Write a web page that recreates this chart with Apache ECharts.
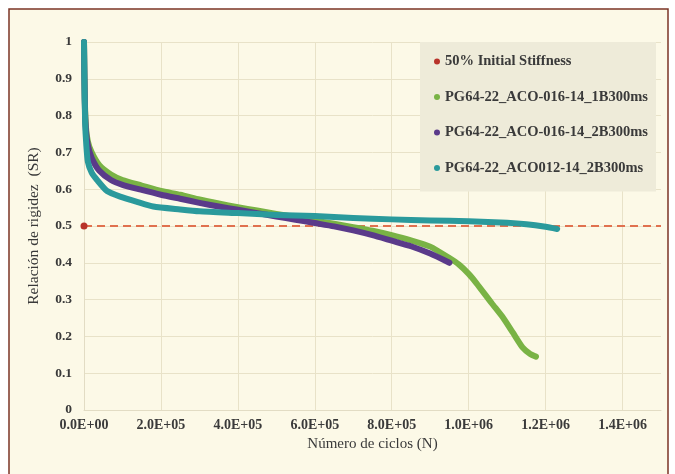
<!DOCTYPE html>
<html>
<head>
<meta charset="utf-8">
<script src="https://cdn.jsdelivr.net/npm/echarts@6/dist/echarts.min.js"></script>
<style>html,body{margin:0;padding:0;background:#fff;}#c{width:675px;height:474px;}</style>
</head>
<body>
<div id="c"></div>
<script>
const seriesNames = ['50% Initial Stiffness','PG64-22_ACO-016-14_1B300ms','PG64-22_ACO-016-14_2B300ms','PG64-22_ACO012-14_2B300ms'];
const yTicks = [0,0.1,0.2,0.3,0.4,0.5,0.6,0.7,0.8,0.9,1];
const refLine = [[0,0.5],[1.5e6,0.5]];
const green = [[0,1],[2e3,0.85],[5e3,0.77],[1e4,0.73],[2e4,0.70],[4e4,0.665],[7e4,0.64],[1e5,0.625],[1.5e5,0.61],[2e5,0.595],[2.5e5,0.585],[3e5,0.572],[3.5e5,0.561],[4e5,0.551],[4.5e5,0.542],[5e5,0.533],[5.5e5,0.524],[6e5,0.515],[6.5e5,0.506],[7e5,0.497],[7.5e5,0.487],[8e5,0.475],[8.5e5,0.461],[9e5,0.444],[9.5e5,0.413],[9.75e5,0.395],[1.0e6,0.37],[1.02e6,0.345],[1.06e6,0.29],[1.09e6,0.25],[1.115e6,0.21],[1.14e6,0.17],[1.16e6,0.152],[1.175e6,0.145]];
const purple = [[0,1],[2e3,0.84],[5e3,0.76],[1e4,0.72],[2e4,0.685],[4e4,0.65],[7e4,0.625],[1e5,0.612],[1.5e5,0.598],[2e5,0.585],[2.5e5,0.574],[3e5,0.563],[3.5e5,0.553],[4e5,0.544],[4.5e5,0.535],[5e5,0.526],[5.5e5,0.517],[6e5,0.508],[6.5e5,0.499],[7e5,0.488],[7.5e5,0.475],[8e5,0.46],[8.5e5,0.445],[9e5,0.425],[9.5e5,0.40]];
const teal = [[0,1],[1e3,0.9],[3e3,0.78],[6e3,0.72],[1e4,0.675],[2e4,0.645],[3.4e4,0.625],[6e4,0.595],[9.4e4,0.58],[1.4e5,0.565],[1.8e5,0.553],[2.5e5,0.545],[3e5,0.54],[4e5,0.535],[5e5,0.53],[6e5,0.527],[7e5,0.522],[8e5,0.518],[9e5,0.515],[1e6,0.513],[1.1e6,0.509],[1.15e6,0.505],[1.2e6,0.498],[1.23e6,0.492]];
const colors = ['#B8332A','#79B345','#5A3A8A','#2A9A9C'];

function fmtX(v){
  if (v % 2e5 !== 0) return '';
  const s = v.toExponential(1).split('e');
  let ex = parseInt(s[1],10);
  const sign = ex < 0 ? '-' : '+';
  ex = Math.abs(ex);
  return s[0] + 'E' + sign + (ex < 10 ? '0' + ex : ex);
}
const font = 'Liberation Serif';
const chart = echarts.init(document.getElementById('c'));
chart.setOption({
  backgroundColor: '#ffffff',
  animation: false,
  graphic: [{type:'rect', z:-10, shape:{x:9,y:9,width:659,height:480}, style:{fill:'#FCF9E7', stroke:'#7B3426', lineWidth:1.5}}],
  grid: {left:84, top:42, right:14, bottom:64},
  legend: {
    orient:'vertical', left:420, top:42,
    backgroundColor:'#EEEBD9', padding:[12,8,16,14], itemGap:20.5,
    icon:'circle', itemWidth:6, itemHeight:6,
    textStyle:{fontFamily:font, fontSize:14.5, fontWeight:'bold', color:'#3a3a3a'},
    data: seriesNames.map((n,i)=>({name:n, itemStyle:{color:colors[i]}}))
  },
  xAxis: {
    type:'value', min:0, max:1.5e6, interval:2e5,
    name:'Número de ciclos (N)', nameLocation:'middle', nameGap:27,
    nameTextStyle:{fontFamily:font, fontSize:15, color:'#3a3a3a'},
    axisLine:{show:true, lineStyle:{color:'#E2DCC4'}}, axisTick:{show:false},
    axisLabel:{formatter:fmtX, fontFamily:font, fontSize:14, fontWeight:'bold', color:'#3a3a3a', margin:8, showMaxLabel:false},
    splitLine:{show:true, showMaxLine:false, lineStyle:{color:'#E8E2C8'}}
  },
  yAxis: {
    type:'value', min:0, max:1, interval:0.1,
    name:'Relación de rigidez  (SR)', nameLocation:'middle', nameGap:42,
    nameTextStyle:{fontFamily:font, fontSize:15.5, color:'#3a3a3a'},
    axisLine:{show:true, lineStyle:{color:'#E2DCC4'}}, axisTick:{show:false},
    axisLabel:{formatter:v=>{const f=yTicks.find(t=>Math.abs(t-v)<1e-9);return f===undefined?'':String(f);}, fontFamily:font, fontSize:13.5, fontWeight:'bold', color:'#3a3a3a', margin:12},
    splitLine:{show:true, lineStyle:{color:'#E8E2C8'}}
  },
  series: [
    {name:seriesNames[0], type:'line', data: refLine.map((p,i)=> i===0 ? {value:p, symbol:'circle', symbolSize:7} : {value:p, symbol:'none'}),
     showSymbol:true, itemStyle:{color:colors[0]}, lineStyle:{color:'#E0714F', width:2, type:[8,5]}, z:2},
    {name:seriesNames[1], type:'line', data:green, showSymbol:false, smooth:0.2, itemStyle:{color:colors[1]}, lineStyle:{color:colors[1], width:6, cap:'round', join:'round'}, z:3},
    {name:seriesNames[2], type:'line', data:purple, showSymbol:false, smooth:0.2, itemStyle:{color:colors[2]}, lineStyle:{color:colors[2], width:6, cap:'round', join:'round'}, z:4},
    {name:seriesNames[3], type:'line', data:teal, showSymbol:false, smooth:0.2, itemStyle:{color:colors[3]}, lineStyle:{color:colors[3], width:6, cap:'round', join:'round'}, z:5}
  ]
});
</script>
</body>
</html>
